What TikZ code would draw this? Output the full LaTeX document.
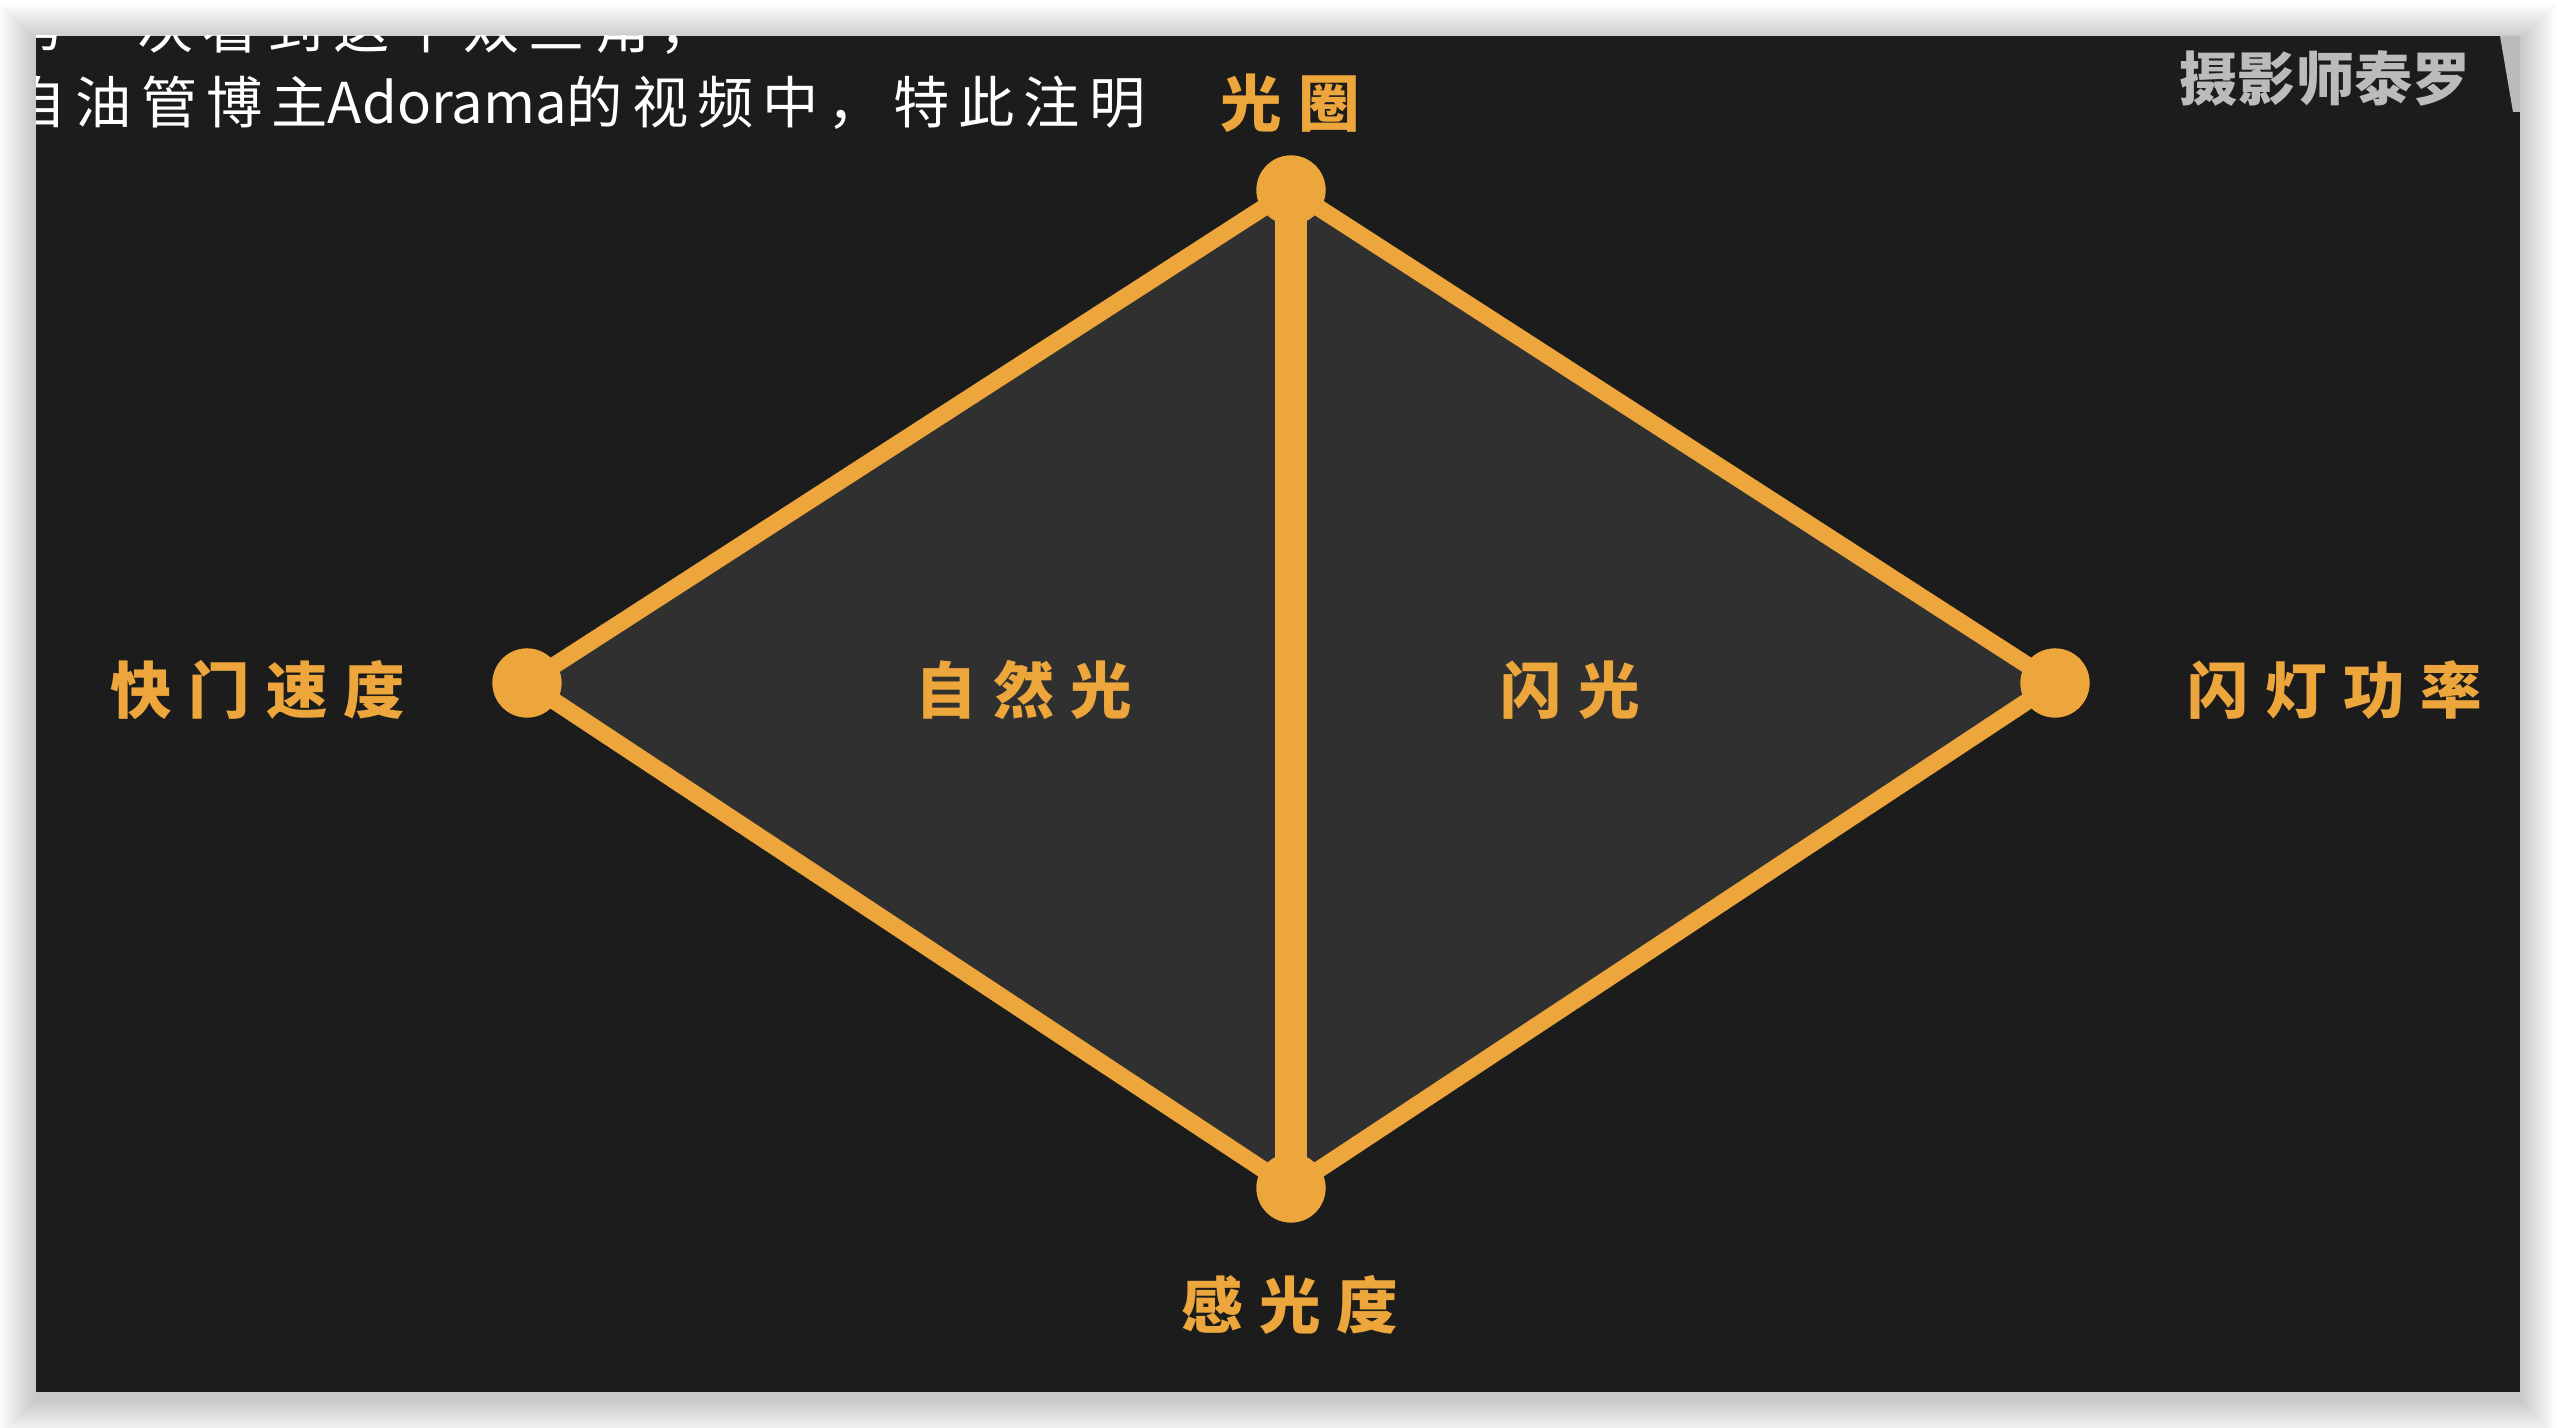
\documentclass[tikz,border=0pt]{standalone}
\usepackage{fontspec}
\newfontfamily\cjk{Noto Sans CJK SC}
\newfontfamily\cjksub{Noto Sans CJK SC}[LetterSpace=16]
\definecolor{panel}{HTML}{1C1C1C}
\definecolor{trifill}{HTML}{303030}
\definecolor{amber}{HTML}{ECA63B}
\definecolor{wmgray}{HTML}{BBBBBB}
\newcommand\ls{\hspace{4.6pt}}
\tikzset{
  dot/.style={circle, fill=amber, draw=none, minimum size=0.69cm, inner sep=0pt},
  edge/.style={draw=amber, line width=4.8pt},
  spine/.style={draw=amber, line width=9.2pt},
  lbl/.style={text=amber, font=\cjk\bfseries\fontsize{17.5}{20}\selectfont, inner sep=0pt},
  sub/.style={text=white, font=\cjksub\fontsize{16}{19}\selectfont, inner sep=0pt},
  wm/.style={text=wmgray, font=\cjk\bfseries\fontsize{16.5}{19}\selectfont, inner sep=0pt}
}
\begin{document}
\begin{tikzpicture}[x=0.01cm, y=-0.01cm]
\useasboundingbox (0,0) rectangle (2556,1428);
\fill[white] (0,0) rectangle (2556,1428);
% soft shadow
\foreach \i in {1,...,18} {
  \fill[black, opacity=0.011] (36-2*\i, 40-2*\i) rectangle (2520+2*\i, 1400+2*\i);
}
\fill[panel] (36,36) rectangle (2520,1392);
% vertices
\coordinate (Tc) at (1291,190);
\coordinate (Bc) at (1291,1188);
\coordinate (Lc) at (527,683);
\coordinate (Rc) at (2055,683);
\fill[trifill] (Tc) -- (Lc) -- (Bc) -- cycle;
\fill[trifill] (Tc) -- (Rc) -- (Bc) -- cycle;
\node[dot] (T) at (Tc) {};
\node[dot] (B) at (Bc) {};
\node[dot] (L) at (Lc) {};
\node[dot] (R) at (Rc) {};
\draw[edge] (T.center) -- (L.center);
\draw[edge] (L.center) -- (B.center);
\draw[edge] (T.center) -- (R.center);
\draw[edge] (R.center) -- (B.center);
\draw[spine] (T.center) -- (B.center);
\node[dot] at (Tc) {};
\node[dot] at (Bc) {};
\node[dot] at (Lc) {};
\node[dot] at (Rc) {};
% labels
\node[lbl] (aperture) at (1290,103) {光\ls 圈};
\node[lbl] (shutter) at (258,690) {快\ls 门\ls 速\ls 度};
\node[lbl] (natural) at (1024,690) {自\ls 然\ls 光};
\node[lbl] (flash) at (1570,690) {闪\ls 光};
\node[lbl] (power) at (2335,690) {闪\ls 灯\ls 功\ls 率};
\node[lbl] (iso) at (1290,1305) {感\ls 光\ls 度};
% subtitles and watermark, clipped to panel
\begin{scope}
\clip (36,36) rectangle (2520,1392);
\node[sub, anchor=west] (line1) at (6,28) {第一次看到这个双三角，};
\node[sub, anchor=east] (line2) at (1146,103) {来自油管博主{\cjk Adorama}的视频中，特此注明};
\node[wm] (mark) at (2325,78) {摄影师泰罗};
\fill[wmgray] (2500,36) -- (2520,36) -- (2520,112) -- (2513,112) -- cycle;
\end{scope}
\end{tikzpicture}
\end{document}
